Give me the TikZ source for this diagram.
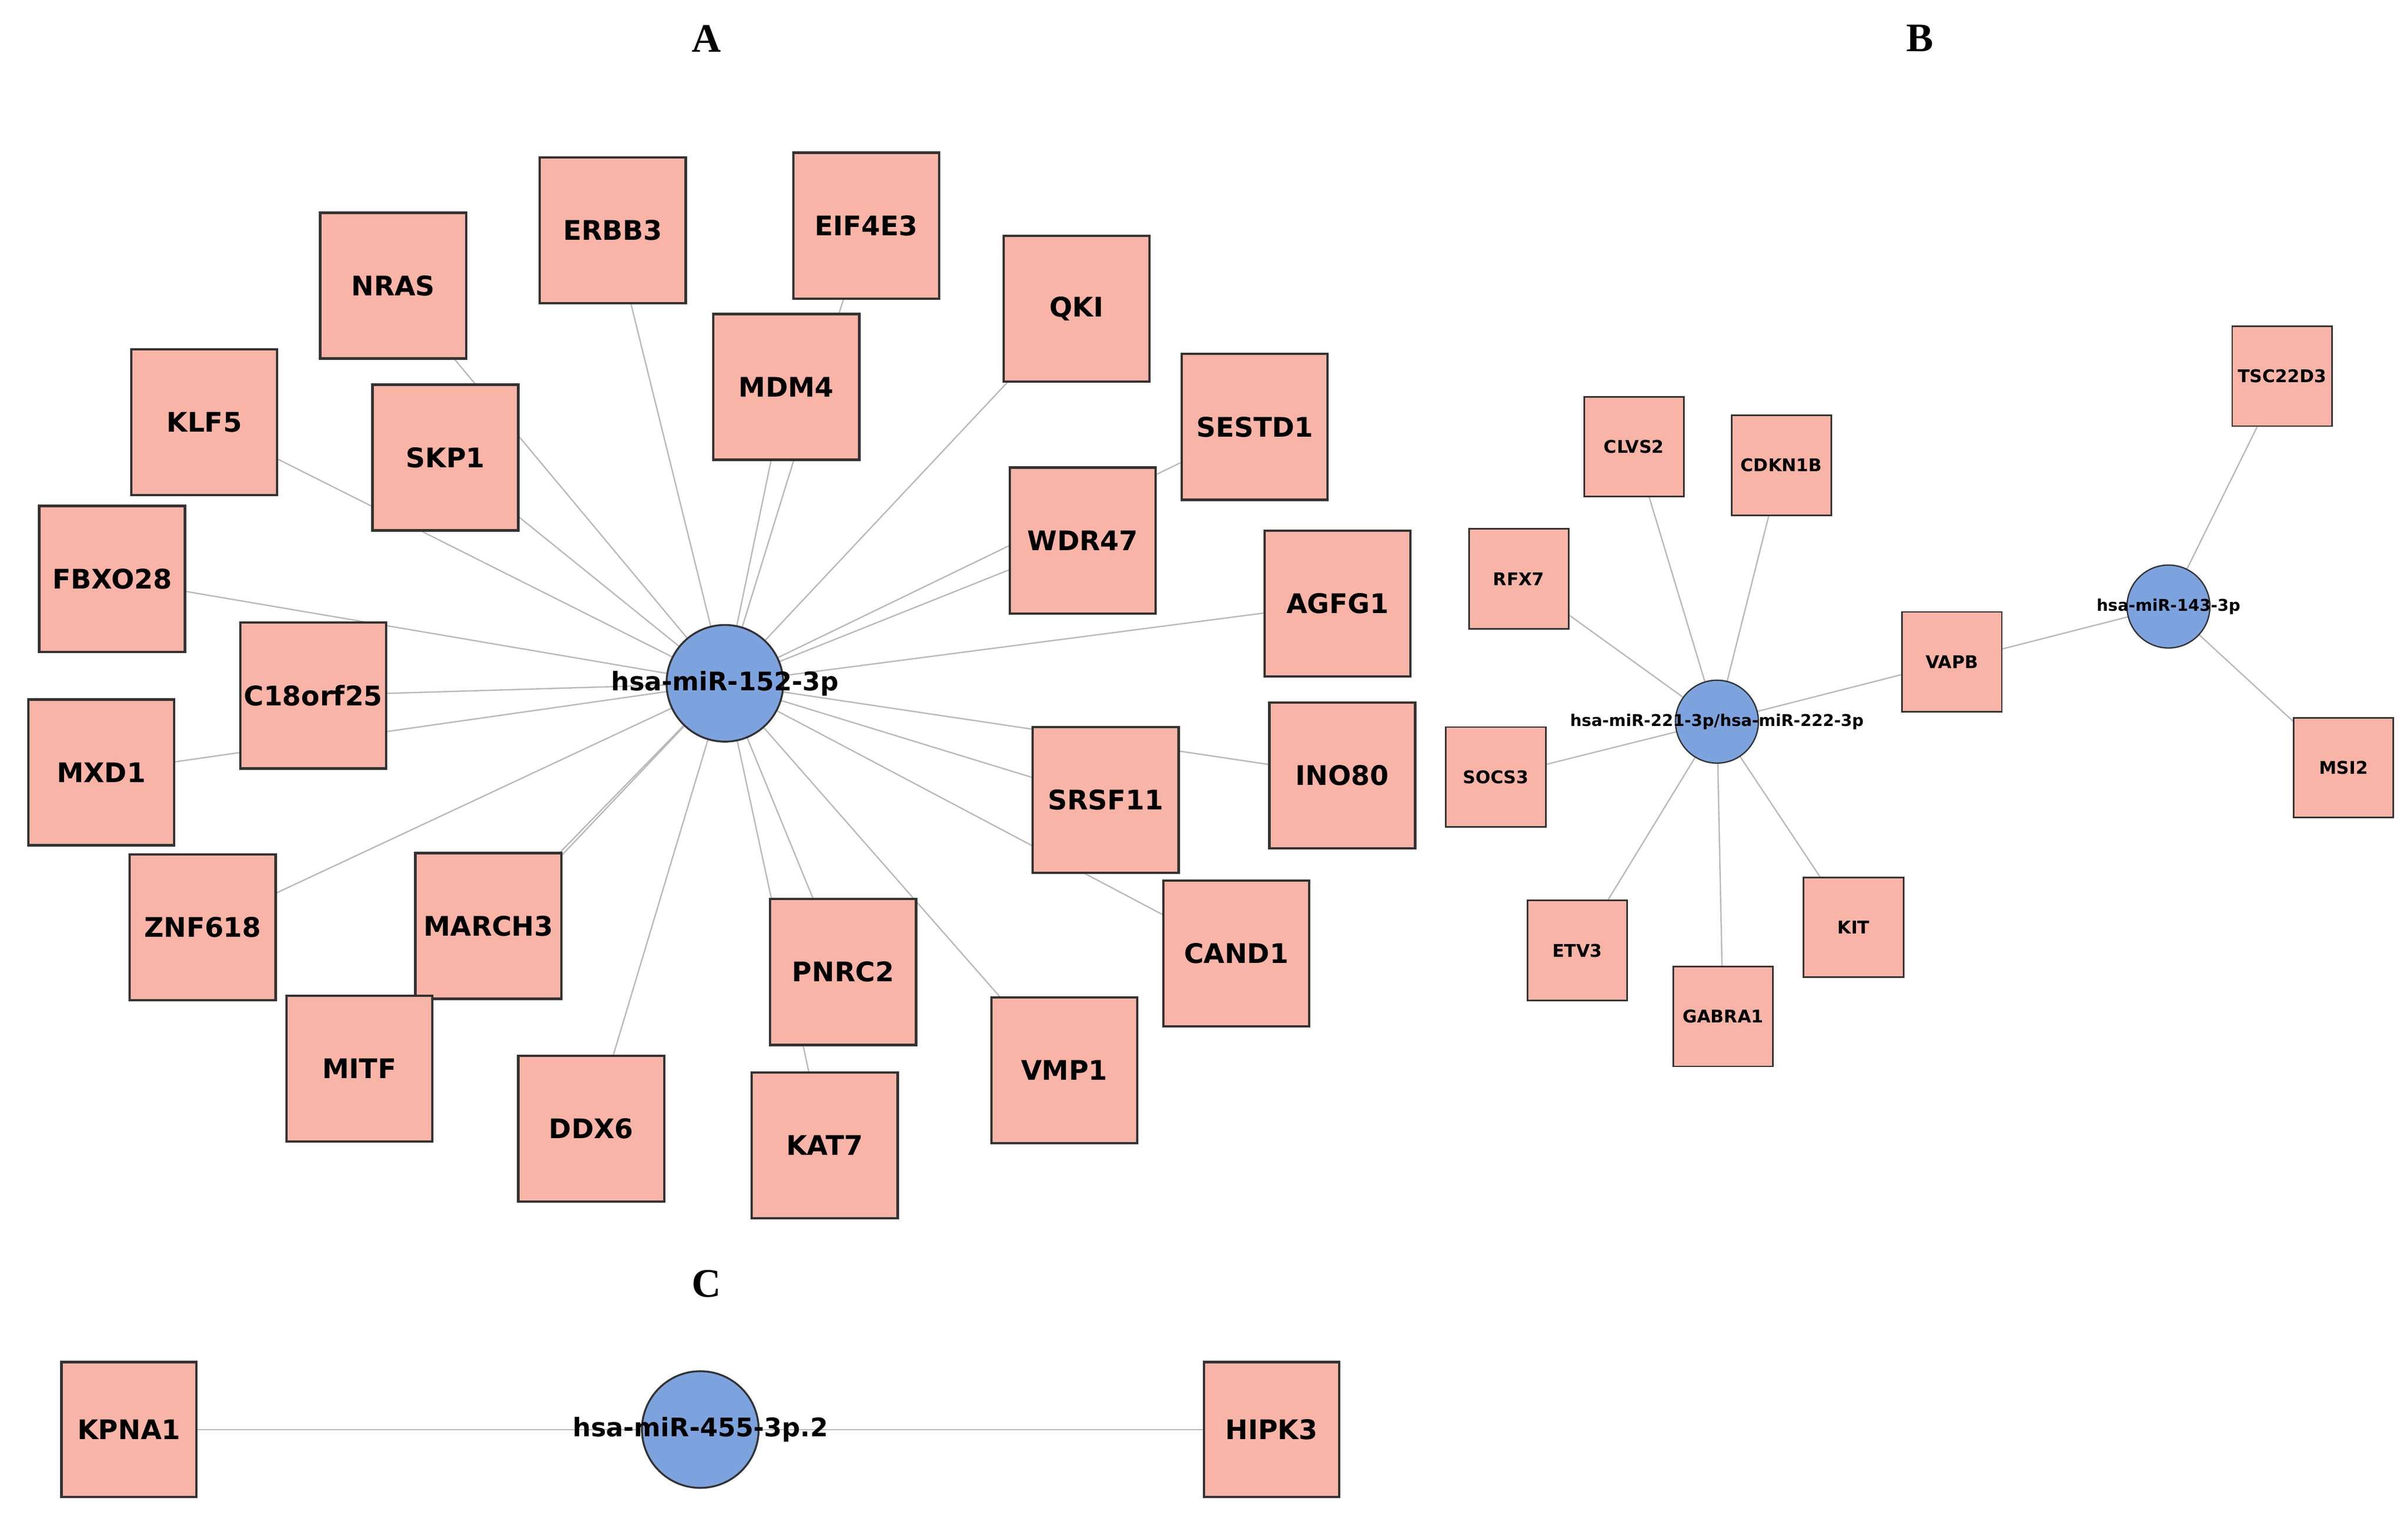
\documentclass[tikz,border=0pt]{standalone}
\usepackage{fontspec}
\setmainfont{DejaVu Sans}
\newfontfamily\panelfont{Liberation Serif}
\usetikzlibrary{backgrounds}
\definecolor{gene}{HTML}{F8B4A7}
\definecolor{mir}{HTML}{7DA3DF}
\begin{document}
\begin{tikzpicture}[x=0.02cm,y=-0.02cm,
  gA/.style={rectangle, draw=black!80, line width=0.9pt, fill=gene, minimum size=1.9cm, inner sep=0pt, font=\fontsize{10}{12}\selectfont\bfseries},
  gB/.style={rectangle, draw=black!80, line width=0.6pt, fill=gene, minimum size=1.3cm, inner sep=0pt, font=\fontsize{6.5}{8}\selectfont\bfseries},
  gC/.style={gA, minimum size=1.76cm},
  mA/.style={circle, draw=black!80, line width=0.7pt, fill=mir, minimum size=1.52cm, inner sep=0pt},
  mB/.style={circle, draw=black!80, line width=0.5pt, fill=mir, minimum size=1.08cm, inner sep=0pt},
  mlab/.style={font=\fontsize{9.5}{11}\selectfont\bfseries},
  mlabB/.style={font=\fontsize{6}{7}\selectfont\bfseries},
  edge/.style={draw=gray!55, line width=0.5pt},
  panel/.style={font=\panelfont\fontsize{15}{18}\selectfont\bfseries},
]
\useasboundingbox (0,0) rectangle (1568,991);

% panel letters
\node[panel] (pA) at (460,25) {A};
\node[panel] (pB) at (1250,25) {B};
\node[panel] (pC) at (460,836) {C};

% Panel A
\node[mA] (m152) at (472,445) {};
\node[gA] (ERBB3) at (399,150) {ERBB3};
\node[gA] (EIF4E3) at (564,147) {EIF4E3};
\node[gA] (NRAS) at (256,186) {NRAS};
\node[gA] (QKI) at (701,201) {QKI};
\node[gA] (MDM4) at (512,252) {MDM4};
\node[gA] (SESTD1) at (817,278) {SESTD1};
\node[gA] (KLF5) at (133,275) {KLF5};
\node[gA] (SKP1) at (290,298) {SKP1};
\node[gA] (WDR47) at (705,352) {WDR47};
\node[gA] (FBXO28) at (73,377) {FBXO28};
\node[gA] (AGFG1) at (871,393) {AGFG1};
\node[gA] (C18orf25) at (204,453) {C18orf25};
\node[gA] (MXD1) at (66,503) {MXD1};
\node[gA] (INO80) at (874,505) {INO80};
\node[gA] (SRSF11) at (720,521) {SRSF11};
\node[gA] (ZNF618) at (132,604) {ZNF618};
\node[gA] (MARCH3) at (318,603) {MARCH3};
\node[gA] (CAND1) at (805,621) {CAND1};
\node[gA] (PNRC2) at (549,633) {PNRC2};
\node[gA] (MITF) at (234,696) {MITF};
\node[gA] (VMP1) at (693,697) {VMP1};
\node[gA] (DDX6) at (385,735) {DDX6};
\node[gA] (KAT7) at (537,746) {KAT7};
\node[mlab] (l152) at (m152) {hsa-miR-152-3p};

% Panel B
\node[mB] (m221) at (1118,470) {};
\node[mB] (m143) at (1412,395) {};
\node[gB] (CLVS2) at (1064,291) {CLVS2};
\node[gB] (CDKN1B) at (1160,303) {CDKN1B};
\node[gB] (TSC22D3) at (1486,245) {TSC22D3};
\node[gB] (RFX7) at (989,377) {RFX7};
\node[gB] (VAPB) at (1271,431) {VAPB};
\node[gB] (SOCS3) at (974,506) {SOCS3};
\node[gB] (MSI2) at (1526,500) {MSI2};
\node[gB] (KIT) at (1207,604) {KIT};
\node[gB] (ETV3) at (1027,619) {ETV3};
\node[gB] (GABRA1) at (1122,662) {GABRA1};
\node[mlabB] (l221) at (m221) {hsa-miR-221-3p/hsa-miR-222-3p};
\node[mlabB] (l143) at (m143) {hsa-miR-143-3p};

% Panel C
\node[mA] (m455) at (456,931) {};
\node[gC] (KPNA1) at (84,931) {KPNA1};
\node[gC] (HIPK3) at (828,931) {HIPK3};
\node[mlab] (l455) at (m455) {hsa-miR-455-3p.2};

\begin{scope}[on background layer]
\foreach \g in {ERBB3,EIF4E3,NRAS,QKI,MDM4,SESTD1,KLF5,SKP1,WDR47,FBXO28,AGFG1,C18orf25,MXD1,INO80,SRSF11,ZNF618,MARCH3,CAND1,PNRC2,MITF,VMP1,DDX6,KAT7}
  \draw[edge] (m152.center) -- (\g.center);
\foreach \g in {CLVS2,CDKN1B,RFX7,VAPB,SOCS3,KIT,ETV3,GABRA1}
  \draw[edge] (m221.center) -- (\g.center);
\foreach \g in {VAPB,TSC22D3,MSI2}
  \draw[edge] (m143.center) -- (\g.center);
\draw[edge] (KPNA1.center) -- (m455.center) -- (HIPK3.center);
\end{scope}
\end{tikzpicture}
\end{document}
